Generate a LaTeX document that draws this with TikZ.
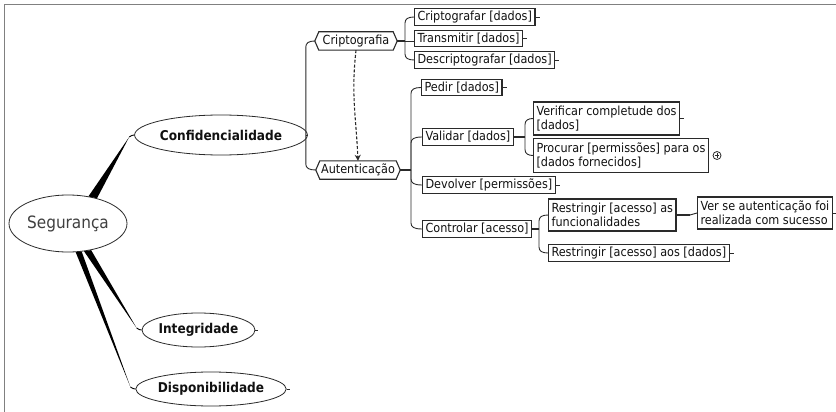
\documentclass[tikz,border=0pt]{standalone}
\usepackage{fontspec}
\setmainfont{DejaVu Sans Condensed}
\usetikzlibrary{calc,arrows.meta,shapes.geometric}
\definecolor{ink}{HTML}{111111}
\definecolor{edge}{HTML}{2A2A2A}
\definecolor{framegray}{HTML}{808080}

% branch links: a vertical run from a junction, bending into the child's west side
\newcommand{\linkup}[2]{\draw[conn] (#1) -- ($(#1 |- #2.west)+(0,6)$) .. controls ($(#1 |- #2.west)+(0,2)$) and ($(#1 |- #2.west)+(3,0)$) .. (#2.west);}
\newcommand{\linkdown}[2]{\draw[conn] (#1) -- ($(#1 |- #2.west)+(0,-6)$) .. controls ($(#1 |- #2.west)+(0,-2)$) and ($(#1 |- #2.west)+(3,0)$) .. (#2.west);}
\newcommand{\linkmid}[2]{\draw[conn] (#1) -- (#1 -| #2.west);}

\begin{document}
\begin{tikzpicture}[x=1pt,y=-1pt,
  every node/.style={text=ink},
  topic/.style={ellipse,draw=edge,line width=0.8pt,inner sep=0pt,font=\fontsize{13.5}{15}\selectfont\bfseries},
  task/.style={rectangle,draw=edge,line width=1.1pt,anchor=west,align=left,inner xsep=3pt,inner ysep=2.6pt,font=\fontsize{12.5}{14}\selectfont},
  twoline/.style={task,minimum height=32pt},
  hexlabel/.style={inner sep=0pt,minimum height=18pt,font=\fontsize{12.5}{14}\selectfont},
  conn/.style={draw=edge,line width=0.9pt},
  trunk/.style={draw=edge,line width=2pt},
  stub/.style={draw=edge,line width=0.8pt}]

\useasboundingbox (0,0) rectangle (836,412);
\fill[white] (0,0) rectangle (836,412);
\draw[framegray,line width=1.2pt] (836,4.5) -- (4.5,4.5) -- (4.5,412);

% central topic and main branches
\node[ellipse,draw=edge,line width=0.8pt,minimum width=118pt,minimum height=57pt,inner sep=0pt,
      font=\fontsize{17}{19}\selectfont,text=black!75] (seg) at (68,223.5) {Segurança};
\node[topic,minimum width=148pt,minimum height=40pt] (conf) at (221,135) {Confidencialidade};
\node[topic,minimum width=103pt,minimum height=34pt] (integ) at (198.5,330) {Integridade};
\node[topic,minimum width=128pt,minimum height=34pt] (disp) at (211,389) {Disponibilidade};

% tapered links from the central topic
\fill[black] (seg.41) -- ($(conf.west)+(-5,2)$) -- (seg.53) -- cycle;
\draw[line width=0.9pt] ($(conf.west)+(-5,2)$) .. controls +(2,-1.5) and +(-1.5,0) .. (conf.west);
\fill[black] (seg.-60) -- ($(integ.west)+(-5,-2)$) -- (seg.-49) -- cycle;
\draw[line width=0.9pt] ($(integ.west)+(-5,-2)$) .. controls +(2,1.5) and +(-1.5,0) .. (integ.west);
\fill[black] (seg.-75) -- ($(disp.west)+(-5,-2)$) -- (seg.-64) -- cycle;
\draw[line width=0.9pt] ($(disp.west)+(-5,-2)$) .. controls +(2,1.5) and +(-1.5,0) .. (disp.west);
\draw[stub] (integ.east) -- ++(3,0);
\draw[stub] (disp.east) -- ++(3,0);

% sub-topics drawn as pointed boxes
\node[hexlabel,minimum width=82pt] (crypt) at (356,41) {Criptografia};
\node[hexlabel,minimum width=84pt] (auth) at (358,170) {Autenticação};
\foreach \n in {crypt,auth}
  \draw[conn,line width=1.1pt] (\n.west) -- ($(\n.north west)+(4,0)$) -- ($(\n.north east)+(-4,0)$) -- (\n.east)
    -- ($(\n.south east)+(-4,0)$) -- ($(\n.south west)+(4,0)$) -- cycle;

% tasks
\node[task] (cripA) at (414,17) {Criptografar [dados]};
\node[task] (trans) at (414,38.5) {Transmitir [dados]};
\node[task] (decr) at (414,60) {Descriptografar [dados]};
\node[task] (pedir) at (421,87.5) {Pedir [dados]};
\node[task] (valid) at (422,137) {Validar [dados]};
\node[task] (devol) at (422,185) {Devolver [permissões]};
\node[task] (ctrl) at (422,229) {Controlar [acesso]};
\node[twoline,minimum height=33pt] (verif) at (533,118.5) {Verificar completude dos\\{}[dados]};
\node[twoline,minimum height=34pt] (procur) at (533,155.5) {Procurar [permissões] para os\\{}[dados fornecidos]};
\node[twoline] (rfunc) at (548,215) {Restringir [acesso] as\\funcionalidades};
\node[task] (rdados) at (548,253) {Restringir [acesso] aos [dados]};
\node[twoline] (verse) at (697,213) {Ver se autenticação foi\\realizada com sucesso};

% collapsed-branch marker
\node[circle,draw=edge,line width=0.8pt,minimum size=8pt,inner sep=0pt] (more) at ($(procur.east)+(8,0)$) {};
\draw[edge,line width=0.8pt] ($(more.center)+(-2.3,0)$) -- ($(more.center)+(2.3,0)$)
  ($(more.center)+(0,-2.3)$) -- ($(more.center)+(0,2.3)$);

% junctions
\coordinate (jconf) at ($(conf.east -| crypt.west)+(-9,0)$);
\coordinate (jcrypt) at ($(crypt.east -| cripA.west)+(-9,0)$);
\coordinate (jauth) at ($(auth.east -| pedir.west)+(-10,0)$);
\coordinate (jval) at ($(valid.east -| verif.west)+(-8,0)$);
\coordinate (jctrl) at ($(ctrl.east -| rfunc.west)+(-9,0)$);
\coordinate (jrf) at ($(rfunc.east -| verse.west)+(-7,0)$);

\draw[conn] (conf.east) -- (jconf);
\linkup{jconf}{crypt}
\linkdown{jconf}{auth}

\draw[trunk] (crypt.east) -- (jcrypt);
\linkup{jcrypt}{cripA}
\linkmid{jcrypt}{trans}
\linkdown{jcrypt}{decr}

\draw[trunk] (auth.east) -- (jauth);
\linkup{jauth}{pedir}
\linkup{jauth}{valid}
\linkdown{jauth}{devol}
\linkdown{jauth}{ctrl}

\draw[trunk] (valid.east) -- (jval);
\linkup{jval}{verif}
\linkdown{jval}{procur}

\draw[trunk] (ctrl.east) -- (jctrl);
\linkup{jctrl}{rfunc}
\linkdown{jctrl}{rdados}

\draw[trunk] (rfunc.east) -- (jrf);
\draw[conn] (jrf) .. controls +(3,0) and +(-3,0) .. (verse.west);

% dependency
\draw[conn,line width=1.1pt,dash pattern=on 3pt off 1.8pt,-{Stealth[length=6pt,width=6pt]}]
  (crypt.south) .. controls ($(crypt.south)+(-5,45)$) and ($(auth.north)+(-2,-45)$) .. (auth.north);

% end stubs on leaf tasks
\foreach \n in {cripA,trans,decr,pedir,verif,devol,rdados,verse}
  \draw[stub] (\n.east) -- ++(4,0);
\end{tikzpicture}
\end{document}
